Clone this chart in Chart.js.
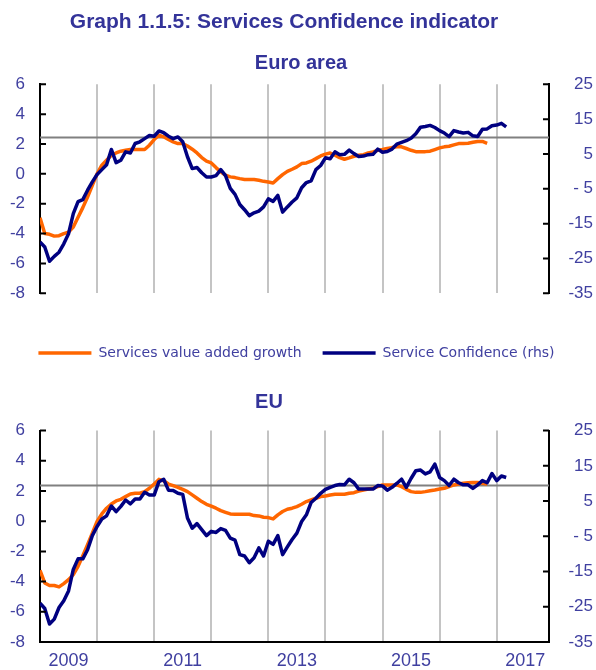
<!DOCTYPE html>
<html><head><meta charset="utf-8">
<script src="https://cdn.jsdelivr.net/npm/chart.js@4.4.1/dist/chart.umd.min.js"></script>
<style>
html,body{margin:0;padding:0;background:#fff;width:596px;height:670px;overflow:hidden;}
body{position:relative;}
.t{position:absolute;z-index:5;font-family:"Liberation Sans",Arial,sans-serif;font-weight:bold;color:#333399;white-space:nowrap;transform:translate(-50%,-50%);line-height:1;}
.c{position:absolute;left:0;width:596px;}
canvas{display:block;}
</style></head><body>
<div class="t" style="left:284px;top:20px;font-size:21px">Graph 1.1.5: Services Confidence indicator</div>
<div class="t" style="left:301px;top:62px;font-size:20px">Euro area</div>
<div class="t" style="left:269px;top:401px;font-size:20px">EU</div>
<div class="c" style="top:0;height:370px"><canvas id="c1" width="596" height="370"></canvas></div>
<div class="c" style="top:370px;height:300px"><canvas id="c2" width="596" height="300"></canvas></div>
<script>
// ---- data (monthly, first point = January 2009) ----
const seriesNames = ['Services value added growth', 'Service Confidence (rhs)'];
const yearLabels = ['2009', '2011', '2013', '2015', '2017'];
const yearLabelMonths = [6, 30, 54, 78, 102];
const yearGridMonths = [12, 24, 36, 48, 60, 72, 84, 96];
const leftTicks = [6, 4, 2, 0, -2, -4, -6, -8];
const rightTicks = [25, 15, 5, -5, -15, -25, -35];
const rightTickLabels = ['25', '15', '5', '- 5', '-15', '-25', '-35'];

const euroGrowth = [-2.94,-4.0,-4.05,-4.17,-4.14,-4.0,-3.9,-3.56,-2.9,-2.26,-1.55,-0.77,0.0,0.58,0.91,1.25,1.4,1.52,1.58,1.63,1.63,1.63,1.63,1.92,2.3,2.59,2.48,2.3,2.14,2.03,2.03,1.87,1.65,1.4,1.09,0.85,
  0.73,0.42,0.13,-0.09,-0.2,-0.25,-0.32,-0.38,-0.38,-0.38,-0.43,-0.5,-0.54,-0.61,-0.32,-0.05,0.17,0.31,0.47,0.69,0.73,0.85,1.02,1.2,1.32,1.4,1.25,1.09,0.98,1.07,1.18,1.25,1.29,1.4,1.47,1.58,
  1.63,1.7,1.76,1.81,1.81,1.7,1.58,1.49,1.49,1.49,1.52,1.63,1.74,1.81,1.85,1.94,2.03,2.03,2.05,2.12,2.17,2.17,2.05];
const euroConfidence = [-20.3,-21.7,-25.8,-24.4,-23.2,-20.8,-17.9,-12.1,-8.7,-8.1,-5.4,-3.0,-0.9,0.5,1.9,6.3,2.5,3.2,5.6,5.3,8.0,8.5,9.4,10.3,10.1,11.6,11.1,10.1,9.4,9.9,8.5,4.2,0.8,1.1,-0.4,-1.6,
  -1.6,-1.2,0.5,-1.2,-4.9,-6.6,-9.5,-11.0,-12.7,-11.9,-11.4,-10.2,-7.9,-8.6,-6.9,-11.7,-10.2,-8.8,-7.6,-4.7,-3.2,-2.7,0.5,1.7,3.9,3.6,5.6,4.8,4.9,6.1,5.1,4.3,4.4,4.8,4.9,6.4,
  5.5,5.7,6.4,7.8,8.3,8.8,9.5,10.8,12.7,12.9,13.2,12.6,11.7,11.0,10.0,11.7,11.3,11.0,11.2,10.2,10.0,12.1,12.2,13.1,13.3,13.8,12.8];
const euGrowth = [-3.25,-4.09,-4.26,-4.26,-4.35,-4.13,-3.87,-3.54,-2.99,-2.29,-1.56,-0.79,-0.02,0.48,0.86,1.14,1.34,1.45,1.63,1.8,1.85,1.85,1.96,2.18,2.46,2.77,2.68,2.46,2.35,2.24,2.11,1.96,1.74,1.52,1.3,1.12,
  1.0,0.86,0.7,0.59,0.48,0.46,0.46,0.46,0.46,0.37,0.35,0.26,0.24,0.15,0.42,0.64,0.79,0.86,0.97,1.12,1.3,1.41,1.52,1.63,1.67,1.74,1.78,1.78,1.78,1.85,1.89,2.0,2.07,2.13,2.18,2.29,
  2.4,2.4,2.4,2.4,2.29,2.11,1.96,1.91,1.91,1.96,2.02,2.07,2.13,2.18,2.29,2.4,2.46,2.51,2.55,2.57,2.57,2.51,2.46];
const euConfidence = [-24.0,-25.5,-29.9,-28.5,-25.2,-23.3,-20.5,-14.4,-11.4,-11.4,-8.8,-4.8,-2.2,-0.1,0.8,3.6,2.0,3.5,5.3,4.2,5.6,5.6,7.5,6.7,6.7,10.5,11.2,8.1,8.0,7.2,6.9,0.2,-2.7,-1.4,-3.1,-4.8,
  -3.6,-3.9,-2.8,-3.3,-5.5,-6.1,-10.2,-10.6,-12.5,-11.1,-8.3,-10.6,-6.4,-7.3,-4.8,-10.2,-8.0,-5.9,-4.1,-0.8,1.1,4.6,5.8,7.2,8.3,8.9,9.4,9.7,9.6,11.2,10.2,8.4,8.4,8.4,8.4,9.4,
  9.3,8.1,8.9,10.0,11.2,8.9,11.4,13.6,13.8,12.7,13.3,15.5,11.7,10.8,9.4,11.2,10.2,9.6,9.6,8.6,9.6,10.8,10.2,12.8,10.8,12.1,11.7];
const euroReference = 9.7;   // horizontal reference line (rhs)
const euReference = 9.4;
const monthIndex = euroConfidence.map((_, i) => i); // months since Jan 2009

// ---- style ----
const TXT = '#4040A0';
const ORANGE = '#FF6600';
const NAVY = '#000080';
const xTickValues = yearGridMonths.concat(yearLabelMonths).sort((a, b) => a - b);

const refLinePlugin = {
  id: 'refLine',
  beforeDatasetsDraw(chart, args, opts) {
    const s = chart.scales.y2, a = chart.chartArea, ctx = chart.ctx;
    const y = s.getPixelForValue(opts.value);
    ctx.save();
    ctx.strokeStyle = '#808080'; ctx.lineWidth = 2;
    ctx.beginPath(); ctx.moveTo(a.left, y); ctx.lineTo(a.right, y); ctx.stroke();
    ctx.restore();
  }
};
const tickMarkPlugin = {
  id: 'tickMarks',
  afterDraw(chart) {
    const ctx = chart.ctx, a = chart.chartArea;
    ctx.save();
    ctx.strokeStyle = '#000'; ctx.lineWidth = 2;
    ctx.beginPath();
    chart.scales.y.ticks.forEach(t => { const p = chart.scales.y.getPixelForValue(t.value); ctx.moveTo(a.left, p); ctx.lineTo(a.left + 6, p); });
    chart.scales.y2.ticks.forEach(t => { const p = chart.scales.y2.getPixelForValue(t.value); ctx.moveTo(a.right - 6, p); ctx.lineTo(a.right, p); });
    ctx.stroke();
    ctx.restore();
  }
};

function makeChart(id, growth, confidence, refValue, cfg) {
  return new Chart(document.getElementById(id), {
    type: 'line',
    data: {
      labels: monthIndex,
      datasets: [
        { label: seriesNames[0], data: growth, yAxisID: 'y', borderColor: ORANGE, backgroundColor: ORANGE,
          borderWidth: 3.5, pointRadius: 0, tension: 0, order: 1, borderJoinStyle: 'round' },
        { label: seriesNames[1], data: confidence, yAxisID: 'y2', borderColor: NAVY, backgroundColor: NAVY,
          borderWidth: 3.5, pointRadius: 0, tension: 0, order: 0, borderJoinStyle: 'round' }
      ]
    },
    options: {
      responsive: false, animation: false, events: [],
      layout: { padding: { top: cfg.padTop, right: 3, left: 0, bottom: 0 } },
      plugins: {
        tooltip: { enabled: false },
        refLine: { value: refValue },
        legend: cfg.legend ? {
          display: true, position: 'bottom', align: 'center', reverse: true,
          labels: { usePointStyle: true, pointStyle: 'line', pointStyleWidth: 53, padding: 21,
                    color: TXT, font: { family: 'DejaVu Sans', size: 14 } }
        } : { display: false }
      },
      scales: {
        x: {
          type: 'linear', min: 0, max: 107,
          afterBuildTicks: s => { s.ticks = xTickValues.map(v => ({ value: v })); },
          afterFit: s => { s.height = cfg.xHeight; },
          grid: { color: c => (c.tick && c.tick.value % 12 === 0) ? '#C4C4C4' : 'rgba(0,0,0,0)', lineWidth: 2, drawTicks: false },
          border: { display: cfg.xBorder, color: '#000', width: 2 },
          ticks: {
            display: cfg.xLabels, autoSkip: false, maxRotation: 0, padding: 8, color: TXT,
            font: { family: 'Liberation Sans', size: 18 },
            callback: v => { const i = yearLabelMonths.indexOf(v); return i >= 0 ? yearLabels[i] : ''; }
          }
        },
        y: {
          position: 'left', min: -8, max: 6,
          afterBuildTicks: s => { s.ticks = leftTicks.map(v => ({ value: v })); },
          afterFit: s => { s.width = 40; },
          grid: { display: false, drawTicks: false },
          border: { display: true, color: '#000', width: 2 },
          ticks: { padding: 15, color: TXT, font: { family: 'Liberation Sans', size: 17 } }
        },
        y2: {
          position: 'right', min: -35, max: 25,
          afterBuildTicks: s => { s.ticks = rightTicks.map(v => ({ value: v })); },
          afterFit: s => { s.width = 44; },
          grid: { display: false, drawTicks: false },
          border: { display: true, color: '#000', width: 2 },
          ticks: { crossAlign: 'far', color: TXT, font: { family: 'Liberation Sans', size: 17 },
                   callback: v => { const i = rightTicks.indexOf(v); return i >= 0 ? rightTickLabels[i] : ''; } }
        }
      }
    },
    plugins: [refLinePlugin, tickMarkPlugin]
  });
}

makeChart('c1', euroGrowth, euroConfidence, euroReference, { padTop: 84.3, xHeight: 31.7, xBorder: false, xLabels: false, legend: true });
makeChart('c2', euGrowth, euConfidence, euReference, { padTop: 60.6, xHeight: 28, xBorder: true, xLabels: true, legend: false });
</script>
</body></html>
